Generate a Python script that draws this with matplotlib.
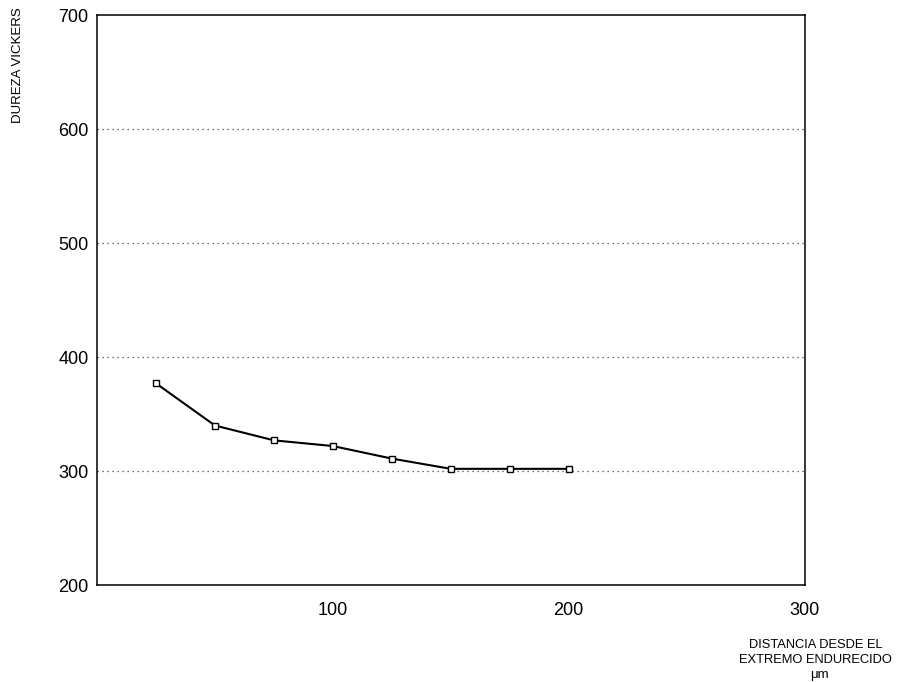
import matplotlib
matplotlib.use("Agg")
import matplotlib.pyplot as plt

plt.rcParams['font.family'] = ['Liberation Sans', 'DejaVu Sans']

distancia = [25, 50, 75, 100, 125, 150, 175, 200]
dureza = [377, 340, 327, 322, 311, 302, 302, 302]
xticks = [100, 200, 300]
yticks = [200, 300, 400, 500, 600, 700]

fig = plt.figure(figsize=(8.98, 6.82), dpi=100)
ax = fig.add_axes([0.108, 0.142, 0.788, 0.836])
ax.set_xlim(0, 300)
ax.set_ylim(200, 700)

for y in [300, 400, 500, 600]:
    ax.axhline(y, color='#444444', linestyle=(0, (1, 3)), linewidth=0.9, zorder=1)

ax.plot(distancia, dureza, color='black', linewidth=1.5, marker='s', markersize=5,
        markerfacecolor='white', markeredgecolor='black', markeredgewidth=1.0, zorder=3)

ax.set_xticks(xticks)
ax.set_yticks(yticks)
ax.set_xticklabels([str(t) for t in xticks], fontsize=13)
ax.set_yticklabels([str(t) for t in yticks], fontsize=13)
ax.tick_params(axis='both', length=0)
ax.tick_params(axis='x', pad=12)
ax.tick_params(axis='y', pad=6)
for s in ax.spines.values():
    s.set_linewidth(1.1)

fig.text(0.02, 0.99, 'DUREZA VICKERS', rotation=90, ha='center', va='top', fontsize=9.5)
fig.text(0.908, 0.054, 'DISTANCIA DESDE EL', ha='center', va='center', fontsize=9.3)
fig.text(0.908, 0.032, 'EXTREMO ENDURECIDO', ha='center', va='center', fontsize=9.3)
fig.text(0.912, 0.010, 'μm', ha='center', va='center', fontsize=9.5)

fig.savefig('out.png', dpi=100)
